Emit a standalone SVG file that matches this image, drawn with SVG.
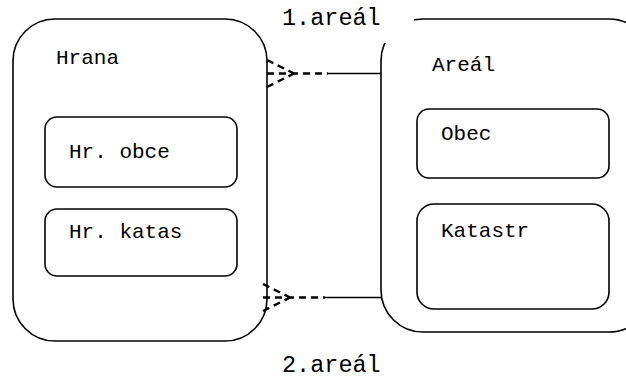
<svg xmlns="http://www.w3.org/2000/svg" width="626" height="379" viewBox="0 0 626 379">
<style>
.box{fill:#fff;stroke:#000;stroke-width:1.6}
.t{font-family:"Liberation Mono","DejaVu Sans Mono",monospace;font-size:21px;fill:#000}
.lbl{font-size:23.5px}
.dash{fill:none;stroke:#000;stroke-width:2.5;stroke-dasharray:7 5}
.solid{fill:none;stroke:#000;stroke-width:1.6}
</style>
<rect width="626" height="379" fill="#fff"/>
<g id="hrana">
<rect class="box" x="13" y="19" width="254" height="322" rx="42" ry="42"/>
<text class="t" x="56" y="64">Hrana</text>
</g>
<g id="hr-obce">
<rect class="box" x="45" y="117" width="192" height="70" rx="12" ry="12"/>
<text class="t" x="69" y="158">Hr. obce</text>
</g>
<g id="hr-katas">
<rect class="box" x="45" y="209" width="192" height="67" rx="12" ry="12"/>
<text class="t" x="69" y="238">Hr. katas</text>
</g>
<g id="areal">
<rect class="box" x="381" y="19" width="270" height="313" rx="42" ry="42"/>
<text class="t" x="432" y="71">Areál</text>
</g>
<g id="obec">
<rect class="box" x="417" y="109" width="192" height="69" rx="12" ry="12"/>
<text class="t" x="441" y="140">Obec</text>
</g>
<g id="katastr">
<rect class="box" x="417" y="204" width="192" height="105" rx="17" ry="17"/>
<text class="t" x="441" y="237">Katastr</text>
</g>
<g id="connectors">
<g id="c1">
<line class="solid" x1="328" y1="73.5" x2="381" y2="73.5"/>
<line class="dash" x1="267" y1="73.5" x2="328" y2="73.5"/>
<line class="dash" x1="267" y1="60" x2="294" y2="73.5"/>
<line class="dash" x1="267" y1="87" x2="294" y2="73.5"/>
<rect x="270" y="0" width="144" height="43" fill="#fff"/>
<text class="t lbl" x="282" y="25">1.areál</text>
</g>
<g id="c2">
<line class="solid" x1="325" y1="297.5" x2="381" y2="297.5"/>
<line class="dash" x1="263" y1="297.5" x2="325" y2="297.5"/>
<line class="dash" x1="263" y1="284" x2="290" y2="297.5"/>
<line class="dash" x1="263" y1="311" x2="290" y2="297.5"/>
<text class="t lbl" x="282" y="372">2.areál</text>
</g>
</g>
</svg>
